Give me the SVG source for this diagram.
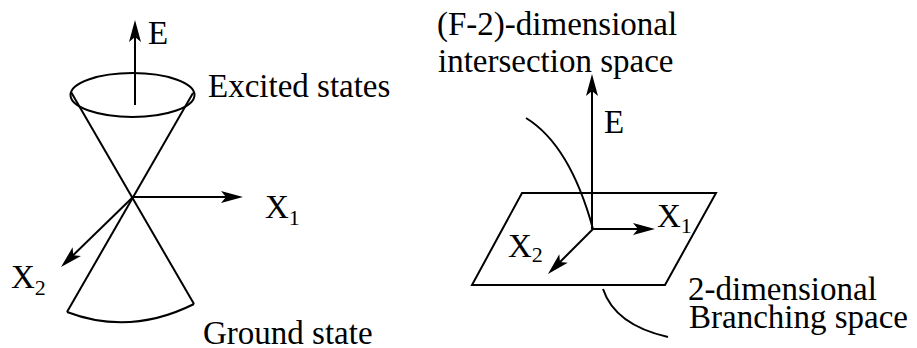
<svg xmlns="http://www.w3.org/2000/svg" width="917" height="348" viewBox="0 0 917 348">
<style>
.ln{fill:none;stroke:#000;stroke-width:2;}
.ar{fill:none;stroke:#000;stroke-width:2;marker-end:url(#ah);}
.t{font-family:"Liberation Serif","Times New Roman",serif;font-size:33px;fill:#000;}
.s{font-size:22px;}
</style>
<defs>
<marker id="ah" markerWidth="24" markerHeight="14" refX="17" refY="7" orient="auto" markerUnits="userSpaceOnUse">
<path d="M0,1 L22,7 L0,13 L5,7 z" fill="#000"/>
</marker>
</defs>
<g id="cone">
<ellipse class="ln" cx="132.5" cy="95" rx="62" ry="22"/>
<line class="ln" x1="71" y1="92" x2="194" y2="304"/>
<line class="ln" x1="193" y1="93" x2="67" y2="312"/>
<path class="ln" d="M67,312 Q130,336 194,304"/>
</g>
<g id="plane">
<path class="ln" d="M522,193 L716,193 L665,285 L472,285 Z"/>
<path class="ln" d="M526,118 Q570,145 593,229"/>
<path class="ln" d="M603,289 Q615,325 668,337"/>
</g>
<g id="connectors">
<line class="ar" x1="135" y1="105" x2="135" y2="25"/>
<line class="ar" x1="133" y1="197" x2="238" y2="197"/>
<line class="ar" x1="133" y1="197" x2="64.6" y2="263.5"/>
<line class="ar" x1="592" y1="229" x2="592" y2="79"/>
<line class="ar" x1="593" y1="229" x2="650" y2="229"/>
<line class="ar" x1="593" y1="229" x2="551.5" y2="270.5"/>
</g>
<g id="labels">
<text class="t" x="148" y="44">E</text>
<text class="t" x="208" y="97">Excited states</text>
<text class="t" x="265" y="218">X<tspan class="s" dy="7">1</tspan></text>
<text class="t" x="11" y="288">X<tspan class="s" dy="7">2</tspan></text>
<text class="t" x="203" y="344">Ground state</text>
<text class="t" x="437" y="35">(F-2)-dimensional</text>
<text class="t" x="438" y="72">intersection space</text>
<text class="t" x="604" y="133">E</text>
<text class="t" x="657" y="227">X<tspan class="s" dy="6">1</tspan></text>
<text class="t" x="508" y="257">X<tspan class="s" dy="5">2</tspan></text>
<text class="t" x="688" y="300">2-dimensional</text>
<text class="t" x="689" y="328">Branching space</text>
</g>
</svg>
